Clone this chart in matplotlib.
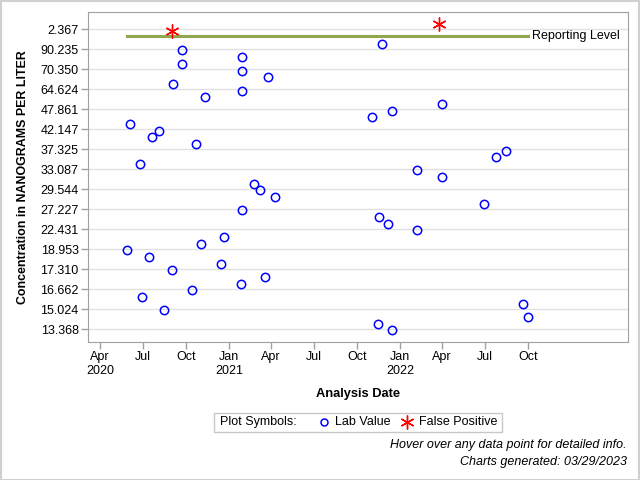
import numpy as np
import matplotlib.pyplot as plt
from matplotlib.lines import Line2D
from matplotlib.patches import Rectangle

plt.rcParams['font.family'] = ['Liberation Sans', 'DejaVu Sans']

# y axis is a ranked axis: tick labels are equally spaced, values are positions on it
ytick_labels = ['13.368', '15.024', '16.662', '17.310', '18.953', '22.431', '27.227',
                '29.544', '33.087', '37.325', '42.147', '47.861', '64.624', '70.350',
                '90.235', '2.367']

lab_dates = ['2020-09-23', '2020-09-23', '2020-09-04', '2020-11-11', '2021-01-29',
             '2021-01-29', '2021-01-29', '2021-03-26', '2020-06-04', '2020-08-05',
             '2020-07-21', '2020-10-22', '2020-06-26', '2021-11-24', '2021-11-03',
             '2021-12-15', '2022-04-01', '2022-07-25', '2022-08-16', '2022-02-07',
             '2022-04-01', '2021-02-24', '2021-03-09', '2021-04-10', '2021-01-29',
             '2020-12-22', '2020-11-03', '2020-05-29', '2020-07-15', '2020-09-02',
             '2020-12-15', '2021-01-27', '2021-03-19', '2020-10-15', '2020-06-30',
             '2020-08-16', '2022-06-30', '2021-11-18', '2021-12-07', '2022-02-07',
             '2022-09-21', '2022-09-30', '2021-11-14', '2021-12-15']
lab_pos = [13.94, 13.28, 12.28, 11.63, 13.63, 12.93, 11.93, 12.63, 10.28, 9.93,
           9.63, 9.28, 8.28, 14.28, 10.63, 10.93, 11.28, 8.63, 8.93, 7.98,
           7.63, 7.28, 6.98, 6.63, 5.98, 4.63, 4.28, 3.98, 3.63, 2.98,
           3.28, 2.28, 2.63, 1.98, 1.63, 0.98, 6.28, 5.63, 5.28, 4.98,
           1.28, 0.63, 0.28, -0.02]

fp_dates = ['2020-09-01', '2022-03-26']
fp_pos = [14.92, 15.28]

report_start, report_end = '2020-05-28', '2022-10-01'
report_pos = 14.67

lab_x = np.array(lab_dates, dtype='datetime64[D]')
fp_x = np.array(fp_dates, dtype='datetime64[D]')

fig = plt.figure(figsize=(6.4, 4.8), dpi=100)
ax = fig.add_axes([88.3 / 640, 138.3 / 480, 540 / 640, 330 / 480])

ax.plot(np.array([report_start, report_end], dtype='datetime64[D]'),
        [report_pos, report_pos], color='#8fa84e', lw=2.2, zorder=2)
ax.text(np.datetime64('2022-10-09'), report_pos, 'Reporting Level',
        va='center', ha='left', fontsize=9)

ax.plot(lab_x, lab_pos, 'o', ls='none', mfc='none', mec='#0000ff',
        ms=6, mew=1.1, zorder=3)
ax.plot(fp_x, fp_pos, marker=(6, 2, 0), ls='none', color='#ff0000',
        ms=10, mew=1.0, zorder=3)

ax.set_xlim(np.datetime64('2020-03-07'), np.datetime64('2023-05-03'))
ax.set_ylim(-0.63, 15.87)
ax.set_yticks(range(len(ytick_labels)))
ax.set_yticklabels(ytick_labels, fontsize=9)
ax.yaxis.grid(True, color='#e1e1e1', lw=1)
ax.set_axisbelow(True)

xt = np.array(['2020-04-01', '2020-07-01', '2020-10-01', '2021-01-01', '2021-04-01',
               '2021-07-01', '2021-10-01', '2022-01-01', '2022-04-01', '2022-07-01',
               '2022-10-01'], dtype='datetime64[D]')
xl = ['Apr\n2020', 'Jul', 'Oct', 'Jan\n2021', 'Apr', 'Jul', 'Oct', 'Jan\n2022',
      'Apr', 'Jul', 'Oct']
ax.set_xticks(xt)
ax.set_xticklabels(xl, fontsize=9, linespacing=1.15, va='top')

for s in ax.spines.values():
    s.set_color('#a0a0a0')
ax.tick_params(colors='#a0a0a0', labelcolor='black', length=5, width=1, pad=2)

ax.set_xlabel('Analysis Date', fontsize=9.3, fontweight='bold', labelpad=8)
ax.set_ylabel('Concentration in NANOGRAMS PER LITER', fontsize=8.9,
              fontweight='bold', labelpad=8)

# legend box drawn by hand
ly = (480 - 422) / 480
fig.add_artist(Rectangle((214 / 640, (480 - 431.7) / 480),
                         (501.7 - 214) / 640, 18.4 / 480,
                         transform=fig.transFigure, fill=False,
                         edgecolor='#c8c8c8', lw=1))
fig.text(219.5 / 640, ly, 'Plot Symbols:', fontsize=9, va='center', ha='left')
fig.add_artist(Line2D([324.3 / 640], [ly], transform=fig.transFigure, marker='o',
                      mfc='none', mec='#0000ff', ms=5, mew=1.1))
fig.text(335 / 640, ly, 'Lab Value', fontsize=9, va='center', ha='left')
fig.add_artist(Line2D([406.7 / 640], [ly], transform=fig.transFigure,
                      marker=(6, 2, 0), color='#ff0000', ms=10, mew=1.0))
fig.text(419.3 / 640, ly, 'False Positive', fontsize=9, va='center', ha='left')

fig.text(627 / 640, (480 - 445) / 480, 'Hover over any data point for detailed info.',
         fontsize=9, style='italic', ha='right', va='center')
fig.text(627 / 640, (480 - 462) / 480, 'Charts generated: 03/29/2023',
         fontsize=9, style='italic', ha='right', va='center')

fig.add_artist(Rectangle((0.5 / 640, 0.5 / 480), 638.5 / 640, 478.5 / 480,
                         transform=fig.transFigure, fill=False,
                         edgecolor='#d0d0d0', lw=1.5))

fig.savefig('out.png', dpi=100)
